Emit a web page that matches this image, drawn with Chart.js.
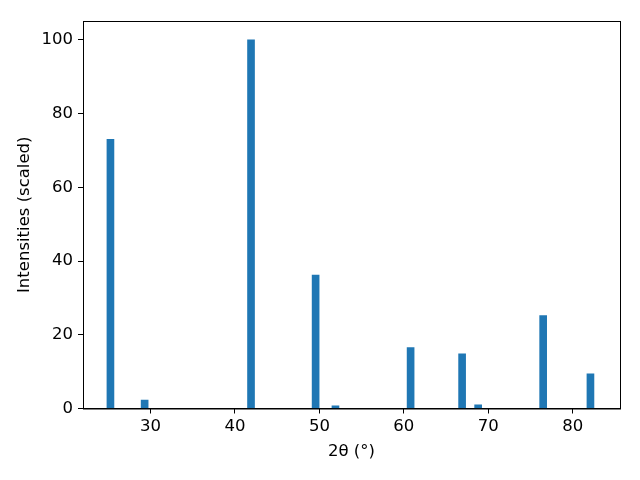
<!DOCTYPE html>
<html>
<head>
<meta charset="utf-8">
<script src="https://cdn.jsdelivr.net/npm/chart.js@4/dist/chart.umd.min.js"></script>
<style>
  body { margin: 0; background: #fff; }
  canvas { display: block; }
</style>
</head>
<body>
<canvas id="xrd" width="640" height="480"></canvas>
<script>
// peak positions (2theta, degrees) and scaled intensities
const peakAngles = [25.25, 29.3, 41.9, 49.55, 51.9, 60.8, 66.9, 68.8, 76.5, 82.1];
const peakIntensities = [73.0, 2.3, 100, 36.2, 0.7, 16.5, 14.8, 1.0, 25.2, 9.4];
const xTicks = [30, 40, 50, 60, 70, 80];
const yTicks = [0, 20, 40, 60, 80, 100];

// frame round the plot area (top and right spines)
const framePlugin = {
  id: "frame",
  afterDraw(chart) {
    const { ctx, chartArea: a } = chart;
    ctx.save();
    ctx.strokeStyle = "#000";
    ctx.lineWidth = 1;
    ctx.strokeRect(a.left + 0.5, a.top + 0.5, a.right - a.left, a.bottom - a.top);
    ctx.restore();
  },
};

const font = { family: "DejaVu Sans", size: 16.5 };

new Chart(document.getElementById("xrd").getContext("2d"), {
  type: "bar",
  data: {
    datasets: [
      {
        data: peakAngles.map((a, i) => ({ x: a, y: peakIntensities[i] })),
        backgroundColor: "#1f77b4",
        barThickness: 7,
      },
    ],
  },
  options: {
    responsive: false,
    animation: false,
    layout: { padding: { top: 21, right: 20, left: 0, bottom: 0 } },
    plugins: { legend: { display: false }, tooltip: { enabled: false } },
    scales: {
      x: {
        type: "linear",
        offset: false,
        min: 22.0,
        max: 85.6,
        grid: { drawOnChartArea: false, offset: false, tickLength: 5, color: "#000" },
        border: { color: "#000" },
        afterBuildTicks: (s) => { s.ticks = xTicks.map((v) => ({ value: v })); },
        afterFit: (s) => { s.height = 71.5; },
        ticks: { color: "#000", font, padding: 3, maxRotation: 0 },
        title: {
          display: true,
          text: "2θ (°)",
          color: "#000",
          font,
          padding: { top: 0, bottom: 18 },
        },
      },
      y: {
        min: 0,
        max: 105.1,
        grid: { drawOnChartArea: false, tickLength: 5, color: "#000" },
        border: { color: "#000" },
        afterBuildTicks: (s) => { s.ticks = yTicks.map((v) => ({ value: v })); },
        afterFit: (s) => { s.width = 83; },
        ticks: { color: "#000", font, padding: 5 },
        title: {
          display: true,
          text: "Intensities (scaled)",
          color: "#000",
          font,
          padding: { top: 15, bottom: 0 },
        },
      },
    },
  },
  plugins: [framePlugin],
});
</script>
</body>
</html>
